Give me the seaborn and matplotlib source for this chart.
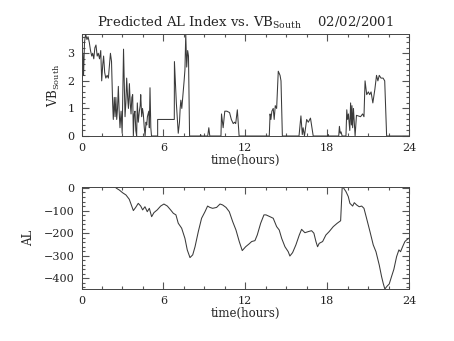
import numpy as np
import pandas as pd
import matplotlib
matplotlib.use("Agg")
import matplotlib.pyplot as plt
from matplotlib.ticker import MultipleLocator
import seaborn as sns

# ---- data: (time in hours, value) ----
vb_points = [
    (0.00, 2.9), (0.05, 2.1), (0.10, 3.0), (0.15, 2.2), (0.22, 3.4), (0.30, 3.7), (0.40, 3.5),
    (0.48, 3.6), (0.57, 3.4), (0.66, 3.1), (0.75, 2.9), (0.82, 3.0), (0.90, 2.8), (0.98, 3.2),
    (1.06, 3.3), (1.15, 2.9), (1.23, 3.0), (1.32, 2.8), (1.41, 3.1), (1.48, 2.0), (1.56, 2.6),
    (1.62, 2.9), (1.70, 2.3), (1.78, 2.1), (1.88, 2.2), (1.97, 2.1), (2.05, 2.6), (2.12, 3.0),
    (2.20, 2.7), (2.28, 1.2), (2.33, 0.6), (2.40, 1.4), (2.46, 0.7), (2.52, 1.4), (2.58, 0.6),
    (2.64, 1.0), (2.70, 1.8), (2.76, 0.9), (2.82, 0.3), (2.90, 0.9), (2.98, 0.1), (3.08, 3.15),
    (3.19, 0.7), (3.25, 1.2), (3.31, 2.1), (3.38, 1.4), (3.44, 1.0), (3.51, 1.9), (3.57, 1.2),
    (3.63, 0.8), (3.69, 1.4), (3.75, 1.5), (3.80, 0.0), (3.86, 0.8), (3.92, 0.9), (3.98, 0.2),
    (4.04, 0.0), (4.09, 1.2), (4.16, 0.5), (4.24, 0.9), (4.30, 1.1), (4.34, 1.5), (4.41, 0.7),
    (4.47, 1.0), (4.53, 0.8), (4.60, 0.3), (4.66, 0.0), (4.73, 0.5), (4.78, 0.4), (4.83, 0.7),
    (4.88, 0.8), (4.93, 0.9), (4.97, 0.3), (5.02, 1.75), (5.08, 0.3), (5.13, 0.0), (5.58, 0.0),
    (5.58, 0.6), (6.80, 0.6), (6.81, 2.7), (6.95, 1.2), (7.09, 0.1), (7.18, 0.5), (7.23, 1.0),
    (7.28, 1.3), (7.35, 1.0), (7.42, 1.4), (7.52, 2.0), (7.58, 2.4), (7.64, 3.7), (7.71, 2.5),
    (7.78, 3.1), (7.84, 2.9), (7.92, 0.0), (8.70, 0.0), (8.73, 0.05), (8.76, 0.0), (9.25, 0.0),
    (9.33, 0.3), (9.40, 0.0), (10.22, 0.0), (10.26, 0.8), (10.38, 0.3), (10.50, 0.9),
    (10.65, 0.9), (10.85, 0.85), (10.98, 0.6), (11.12, 0.45), (11.22, 0.5), (11.30, 0.45),
    (11.42, 0.95), (11.55, 0.0), (13.76, 0.0), (13.82, 0.8), (13.88, 0.6), (13.95, 0.9),
    (14.05, 1.0), (14.12, 0.6), (14.20, 1.1), (14.30, 1.0), (14.42, 2.35), (14.55, 2.2),
    (14.62, 2.0), (14.72, 0.0), (15.94, 0.0), (16.08, 0.73), (16.18, 0.05), (16.24, 0.3),
    (16.34, 0.0), (16.50, 0.6), (16.62, 0.5), (16.78, 0.65), (16.98, 0.0), (18.05, 0.0),
    (18.08, 0.05), (18.11, 0.0), (18.85, 0.0), (18.90, 0.35), (18.96, 0.1), (19.02, 0.15),
    (19.10, 0.0), (19.38, 0.0), (19.44, 0.95), (19.50, 0.6), (19.56, 0.8), (19.66, 0.2),
    (19.72, 1.2), (19.78, 0.4), (19.82, 1.1), (19.87, 0.3), (19.93, 1.0), (20.05, 0.0),
    (20.15, 0.75), (20.45, 0.7), (20.60, 0.8), (20.70, 0.7), (20.78, 2.0), (20.90, 1.5),
    (21.02, 1.6), (21.12, 1.5), (21.22, 1.6), (21.35, 1.2), (21.50, 1.7), (21.62, 2.2),
    (21.72, 2.0), (21.82, 2.2), (21.95, 2.1), (22.10, 2.1), (22.22, 2.0), (22.36, 0.0),
    (24.00, 0.0),
]

al_points = [
    (2.53, 0), (2.77, -9), (3.01, -21), (3.26, -31), (3.50, -50), (3.80, -100), (3.97, -86),
    (4.16, -68), (4.34, -80), (4.48, -97), (4.65, -83), (4.82, -105), (4.97, -90), (5.14, -127),
    (5.31, -109), (5.55, -97), (5.80, -80), (6.04, -71), (6.29, -80), (6.53, -97), (6.73, -112),
    (6.92, -119), (7.09, -156), (7.34, -178), (7.58, -223), (7.75, -274), (7.95, -308),
    (8.15, -296), (8.32, -260), (8.56, -193), (8.80, -134), (9.05, -105), (9.24, -80),
    (9.41, -86), (9.61, -90), (9.90, -86), (10.15, -71), (10.34, -75), (10.59, -86),
    (10.83, -105), (11.08, -149), (11.32, -186), (11.56, -237), (11.78, -277), (12.03, -260),
    (12.27, -248), (12.47, -237), (12.71, -233), (12.88, -208), (13.13, -156), (13.37, -119),
    (13.52, -119), (13.81, -127), (14.05, -134), (14.30, -171), (14.49, -186), (14.67, -223),
    (14.91, -260), (15.15, -282), (15.27, -301), (15.47, -286), (15.71, -252), (15.96, -208),
    (16.13, -183), (16.37, -198), (16.62, -193), (16.86, -189), (17.03, -200), (17.18, -237),
    (17.30, -260), (17.42, -245), (17.67, -237), (17.91, -208), (18.15, -193), (18.45, -171),
    (18.74, -156), (18.99, -145), (19.10, -1), (19.17, 3), (19.38, -16), (19.55, -38),
    (19.67, -68), (19.87, -80), (19.99, -65), (20.16, -75), (20.35, -83), (20.53, -80),
    (20.70, -90), (20.89, -134), (21.14, -193), (21.38, -252), (21.58, -282), (21.82, -341),
    (21.99, -392), (22.11, -422), (22.23, -447), (22.40, -434), (22.55, -425), (22.72, -392),
    (22.89, -360), (23.09, -304), (23.26, -274), (23.38, -282), (23.53, -260), (23.70, -237),
    (23.82, -230), (24.00, -222),
]

x_ticks = [0, 6, 12, 18, 24]
title_text = "Predicted AL Index vs. VB$_{\\mathrm{South}}$    02/02/2001"

vb_df = pd.DataFrame(vb_points, columns=["time", "VB"])
al_df = pd.DataFrame(al_points, columns=["time", "AL"])

# ---- style ----
sns.set_style("ticks", {"xtick.direction": "in", "ytick.direction": "in"})
plt.rcParams.update({
    "font.family": ["DejaVu Serif"],
    "mathtext.fontset": "dejavuserif",
})

fig = plt.figure(figsize=(4.54, 3.41), dpi=100)
ax1 = fig.add_axes([81.5 / 454, 1 - 136 / 341, (409 - 81.5) / 454, 102 / 341])
ax2 = fig.add_axes([81.5 / 454, 1 - 289 / 341, (409 - 81.5) / 454, 101.7 / 341])

line_color = "#3a3a3a"
sns.lineplot(data=vb_df, x="time", y="VB", ax=ax1, estimator=None, sort=False,
             color=line_color, linewidth=0.75)
sns.lineplot(data=al_df, x="time", y="AL", ax=ax2, estimator=None, sort=False,
             color=line_color, linewidth=0.75)

ax1.set_ylim(0, 3.7)
ax2.set_ylim(-447, 3)

tick_color = "#555555"
for ax, ymaj, ymin in ((ax1, 1, 0.2), (ax2, 100, 20)):
    ax.set_xlim(0, 24)
    ax.set_xticks(x_ticks)
    ax.yaxis.set_major_locator(MultipleLocator(ymaj))
    ax.xaxis.set_minor_locator(MultipleLocator(1.5))
    ax.yaxis.set_minor_locator(MultipleLocator(ymin))
    ax.tick_params(axis="both", which="major", direction="in", length=5, width=0.8,
                   color=tick_color, bottom=True, left=True, top=True, right=True,
                   labelsize=8, pad=5, labelcolor="#222222")
    ax.tick_params(axis="both", which="minor", direction="in", length=2.5, width=0.8,
                   color=tick_color, bottom=True, left=True, top=True, right=True)
    for s in ax.spines.values():
        s.set_visible(True)
        s.set_linewidth(0.7)
        s.set_color("#444444")
    ax.set_xlabel("time(hours)", fontsize=8.5, labelpad=1)

ax1.set_ylabel("VB$_{\\mathrm{South}}$", fontsize=8.5, labelpad=4)
ax2.set_ylabel("AL", fontsize=8.5, labelpad=6)
ax1.set_title(title_text, fontsize=9.5, pad=5)

fig.savefig("out.png", dpi=100, facecolor="white")
